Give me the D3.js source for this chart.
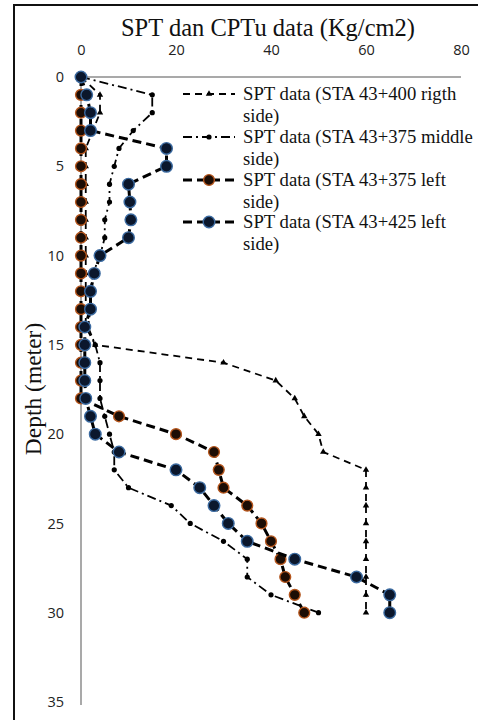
<!DOCTYPE html>
<html>
<head>
<meta charset="utf-8">
<script src="https://d3js.org/d3.v7.min.js"></script>
<style>
  body { margin: 0; background: #fff; }
  svg { display: block; }
</style>
</head>
<body>
<div class="chart"></div>
<script>
var width = 478;
var height = 720;

// depth of every reading (meter)
var depths = [0, 1, 2, 3, 4, 5, 6, 7, 8, 9, 10, 11, 12, 13, 14, 15, 16, 17, 18, 19, 20, 21, 22, 23, 24, 25, 26, 27, 28, 29, 30];

// spt values per station (Kg/cm2)
var sta400Right = [0, 4, 4, 2.5, 1, 1, 1, 1, 1, 1, 1, 1, 1, 1, 1, 3, 30, 41, 45, 47, 50, 51, 60, 60, 60, 60, 60, 60, 60, 60, 60];
var sta375Middle = [0, 15, 15, 11, 8, 7, 6, 6, 5, 5, 4, 2.5, 2, 2, 1.5, 3, 4, 4, 4, 5, 6, 7, 7, 10, 19, 23, 30, 35, 35, 40, 50];
var sta375Left = [0, 0, 0, 0, 0, 0, 0, 0, 0, 0, 0, 0, 0, 0, 0, 0, 0, 0, 0, 8, 20, 28, 29, 30, 35, 38, 40, 42, 43, 45, 47];
var sta425Left = [0, 1.2, 2, 2, 18, 18, 10, 10.3, 10.5, 10, 4, 2.8, 2, 2, 0.8, 0.8, 0.8, 0.8, 1, 2, 3, 8, 20, 25, 28, 31, 35, 45, 58, 65, 65];

var xTicks = [0, 20, 40, 60, 80];
var yTicks = [0, 5, 10, 15, 20, 25, 30, 35];

var legendLabels = [
    ['SPT data (STA 43+400 rigth', 'side)'],
    ['SPT data (STA 43+375 middle', 'side)'],
    ['SPT data (STA 43+375 left', 'side)'],
    ['SPT data (STA 43+425 left', 'side)']
];

var series = [
    { values: sta400Right, marker: 'tri', stroke: '#000', width: 1.8, dash: '7,5' },
    { values: sta375Middle, marker: 'dot', stroke: '#000', width: 1.8, dash: '9,4,2,4' },
    { values: sta375Left, marker: 'orange', stroke: '#000', width: 3, dash: '9,5' },
    { values: sta425Left, marker: 'blue', stroke: '#000', width: 3, dash: '9,5' }
];

var x = d3.scaleLinear().domain([0, 80]).range([81, 461]);
var y = d3.scaleLinear().domain([0, 35]).range([77, 702]);

var svg = d3.select('.chart').append('svg')
    .attr('width', width)
    .attr('height', height);

// outer frame (only left and top visible)
svg.append('rect')
    .attr('x', 14).attr('y', 5)
    .attr('width', 500).attr('height', 760)
    .attr('fill', 'none')
    .attr('stroke', '#111')
    .attr('stroke-width', 2);

// title
svg.append('text')
    .attr('x', 268).attr('y', 36)
    .attr('text-anchor', 'middle')
    .attr('font-family', 'Liberation Serif, serif')
    .attr('font-size', 24.5)
    .attr('fill', '#111')
    .text('SPT dan CPTu data (Kg/cm2)');

// y label
svg.append('text')
    .attr('transform', 'translate(41, 389) rotate(-90)')
    .attr('text-anchor', 'middle')
    .attr('font-family', 'Liberation Serif, serif')
    .attr('font-size', 23.5)
    .attr('fill', '#111')
    .text('Depth (meter)');

// axes
var xAxis = d3.axisTop(x).tickValues(xTicks).tickSize(0).tickPadding(22);
var gx = svg.append('g').attr('transform', 'translate(0,' + y(0) + ')').call(xAxis);
var yAxis = d3.axisLeft(y).tickValues(yTicks).tickSize(0).tickPadding(17);
var gy = svg.append('g').attr('transform', 'translate(' + x(0) + ',0)').call(yAxis);

gx.select('.domain').attr('d', 'M' + x(0) + ',0H' + x(80)).attr('stroke', '#8c8c8c').attr('stroke-width', 1.5);
gy.select('.domain').attr('d', 'M0,' + y(0) + 'V705').attr('stroke', '#8c8c8c').attr('stroke-width', 1.5);
svg.selectAll('.tick text')
    .attr('font-family', 'Open Sans, sans-serif')
    .attr('font-size', 14.5)
    .attr('fill', '#222');

var line = d3.line()
    .x(function (d) { return x(d[0]); })
    .y(function (d) { return y(d[1]); });

function drawMarker(g, kind, px, py) {
    if (kind === 'tri') {
        g.append('path')
            .attr('d', d3.symbol().type(d3.symbolTriangle).size(18)())
            .attr('transform', 'translate(' + px + ',' + py + ')')
            .attr('fill', '#000');
    } else if (kind === 'dot') {
        g.append('circle').attr('cx', px).attr('cy', py).attr('r', 2.6).attr('fill', '#000');
    } else if (kind === 'orange') {
        g.append('circle').attr('cx', px).attr('cy', py).attr('r', 5.4)
            .attr('fill', '#1c0d05').attr('stroke', '#b4551c').attr('stroke-width', 1.4);
    } else {
        g.append('circle').attr('cx', px).attr('cy', py).attr('r', 5.8)
            .attr('fill', '#0b172c').attr('stroke', '#3b6aa0').attr('stroke-width', 1.4);
    }
}

// lines and markers
series.forEach(function (s) {
    var pts = s.values.map(function (v, i) { return [v, depths[i]]; });
    var g = svg.append('g');
    g.append('path')
        .attr('d', line(pts))
        .attr('fill', 'none')
        .attr('stroke', s.stroke)
        .attr('stroke-width', s.width)
        .attr('stroke-dasharray', s.dash);
    pts.forEach(function (p) {
        drawMarker(g, s.marker, x(p[0]), y(p[1]));
    });
});

// legend
var legendY = [94, 137, 180, 222];
series.forEach(function (s, i) {
    var g = svg.append('g');
    g.append('line')
        .attr('x1', 183).attr('x2', 235)
        .attr('y1', legendY[i]).attr('y2', legendY[i])
        .attr('stroke', s.stroke)
        .attr('stroke-width', s.width)
        .attr('stroke-dasharray', s.dash);
    drawMarker(g, s.marker, 209, legendY[i]);
    var t = g.append('text')
        .attr('font-family', 'Liberation Serif, serif')
        .attr('font-size', 18.7)
        .attr('fill', '#111');
    t.append('tspan').attr('x', 243).attr('y', legendY[i] + 6).text(legendLabels[i][0]);
    t.append('tspan').attr('x', 243).attr('y', legendY[i] + 28).text(legendLabels[i][1]);
});
</script>
</body>
</html>
